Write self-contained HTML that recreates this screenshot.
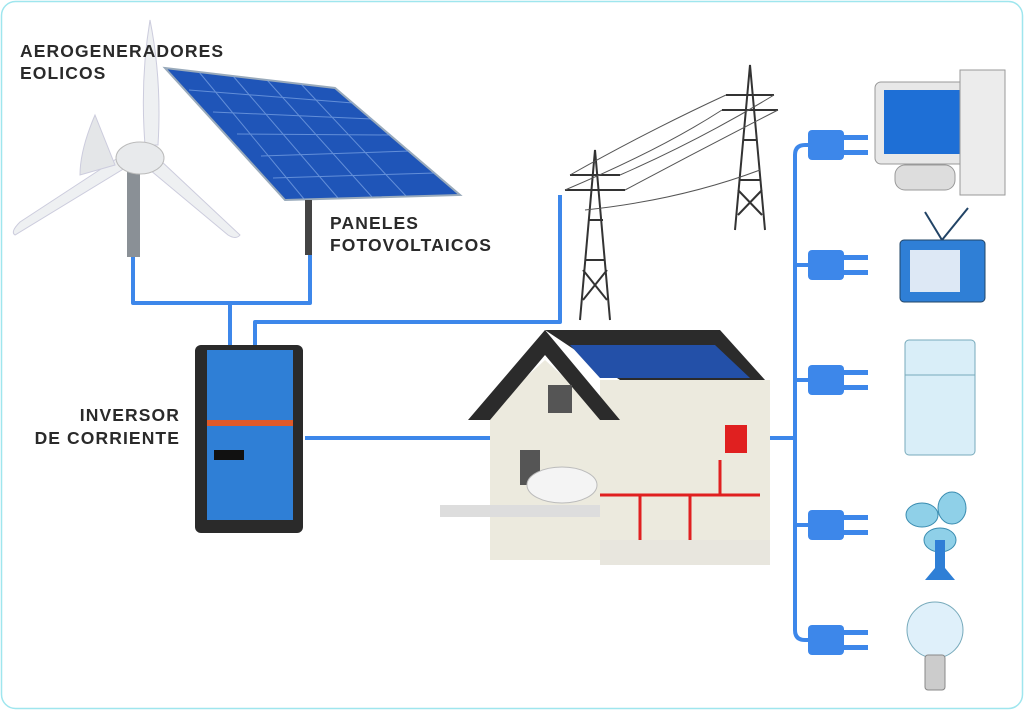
<!DOCTYPE html>
<html><head><meta charset="utf-8"><style>
html,body{margin:0;padding:0;background:#fff;}
svg{display:block}
text{font-family:"Liberation Sans",sans-serif;font-weight:bold;fill:#2a2a2a;font-size:17.5px;letter-spacing:1.1px}
</style></head><body>
<svg width="1024" height="710" viewBox="0 0 1024 710" xmlns="http://www.w3.org/2000/svg">
<rect x="1.5" y="1.5" width="1021" height="707" rx="14" fill="#fff" stroke="#9fe6ee" stroke-width="1.5"/>
<g fill="none" stroke="#3d87ea" stroke-width="4" stroke-linejoin="round">
<path d="M133 255 V303 H310 V255"/>
<path d="M230 303 V345"/>
<path d="M255 345 V322 H560 V195"/>
<path d="M305 438 H495"/>
<path d="M770 438 H795"/>
<path d="M815 145 H805 Q795 145 795 155 V630 Q795 640 805 640 H815"/>
<path d="M795 265 H815 M795 380 H815 M795 525 H815"/>
</g>
<g>
<g transform="translate(0,145)"><rect x="808" y="-15" width="36" height="30" rx="4" fill="#3d87ea"/><rect x="844" y="-10" width="24" height="5" fill="#3d87ea"/><rect x="844" y="5" width="24" height="5" fill="#3d87ea"/></g>
<g transform="translate(0,265)"><rect x="808" y="-15" width="36" height="30" rx="4" fill="#3d87ea"/><rect x="844" y="-10" width="24" height="5" fill="#3d87ea"/><rect x="844" y="5" width="24" height="5" fill="#3d87ea"/></g>
<g transform="translate(0,380)"><rect x="808" y="-15" width="36" height="30" rx="4" fill="#3d87ea"/><rect x="844" y="-10" width="24" height="5" fill="#3d87ea"/><rect x="844" y="5" width="24" height="5" fill="#3d87ea"/></g>
<g transform="translate(0,525)"><rect x="808" y="-15" width="36" height="30" rx="4" fill="#3d87ea"/><rect x="844" y="-10" width="24" height="5" fill="#3d87ea"/><rect x="844" y="5" width="24" height="5" fill="#3d87ea"/></g>
<g transform="translate(0,640)"><rect x="808" y="-15" width="36" height="30" rx="4" fill="#3d87ea"/><rect x="844" y="-10" width="24" height="5" fill="#3d87ea"/><rect x="844" y="5" width="24" height="5" fill="#3d87ea"/></g>
</g>
<rect x="127" y="165" width="13" height="92" fill="#8a9096"/>
<path d="M150 20 Q162 80 158 145 L145 145 Q140 80 150 20Z" fill="#eef0f2" stroke="#ccd" />
<path d="M130 165 L15 235 Q10 232 20 222 L130 150Z" fill="#eef0f2" stroke="#ccd"/>
<path d="M160 160 L240 235 Q236 240 228 235 L150 170Z" fill="#eef0f2" stroke="#ccd"/>
<path d="M95 115 Q80 150 80 175 L115 165Z" fill="#e4e6e8" stroke="#ccd"/>
<ellipse cx="140" cy="158" rx="24" ry="16" fill="#e8eaec" stroke="#bbb"/>
<polygon points="165,68 335,88 460,195 285,200" fill="#1f55b8" stroke="#9ab" stroke-width="2"/>
<g stroke="#7fa7e6" stroke-width="1" opacity="0.7">
<line x1="189" y1="90" x2="353" y2="103"/><line x1="213" y1="112" x2="372" y2="119"/><line x1="237" y1="134" x2="391" y2="135"/><line x1="261" y1="156" x2="410" y2="151"/><line x1="273" y1="178" x2="435" y2="173"/>
<line x1="199" y1="72" x2="304" y2="199"/><line x1="233" y1="76" x2="338" y2="198"/><line x1="267" y1="80" x2="372" y2="197"/><line x1="301" y1="84" x2="406" y2="196"/>
</g>
<rect x="305" y="200" width="7" height="55" fill="#444"/>
<g stroke="#333" stroke-width="2" fill="none">
<path d="M580 320 L595 150 L610 320 M585 260 L605 260 M588 220 L603 220 M565 190 H625 M570 175 H620 M583 300 L607 270 M607 300 L583 270"/>
<path d="M735 230 L750 65 L765 230 M740 180 L760 180 M743 140 L757 140 M722 110 H778 M726 95 H774 M738 215 L762 190 M762 215 L738 190"/>
</g>
<g stroke="#555" stroke-width="1" fill="none">
<path d="M565 190 Q660 150 722 110 M625 190 Q700 150 778 110 M570 175 Q650 130 726 95 M620 175 Q700 140 774 95 M585 210 Q680 200 760 170"/>
</g>
<rect x="195" y="345" width="108" height="188" rx="6" fill="#2a2a2a"/>
<rect x="207" y="350" width="86" height="170" fill="#2f7fd6"/>
<rect x="207" y="420" width="86" height="6" fill="#e05a2a"/>
<rect x="214" y="450" width="30" height="10" fill="#111"/>
<polygon points="490,560 490,410 545,360 600,410 600,380 770,380 770,560" fill="#eceade"/>
<polygon points="468,420 545,330 620,420 600,420 545,355 490,420" fill="#2b2b2b"/>
<polygon points="545,330 720,330 765,380 620,380" fill="#2b2b2b"/>
<polygon points="570,345 715,345 750,378 600,378" fill="#2350a8"/>
<rect x="548" y="385" width="24" height="28" fill="#555"/>
<rect x="520" y="450" width="20" height="35" fill="#555"/>
<rect x="440" y="505" width="160" height="12" fill="#ddd"/>
<ellipse cx="562" cy="485" rx="35" ry="18" fill="#f4f4f4" stroke="#bbb"/>
<rect x="725" y="425" width="22" height="28" fill="#e02020"/>
<path d="M600 495 H760 M640 495 V545 M690 495 V545 M720 460 V495" stroke="#e02020" stroke-width="3" fill="none"/>
<rect x="600" y="540" width="170" height="25" fill="#e8e6de"/>
<rect x="875" y="82" width="100" height="82" rx="6" fill="#e8e8e8" stroke="#999"/>
<rect x="884" y="90" width="82" height="64" fill="#1e6fd6"/>
<rect x="960" y="70" width="45" height="125" fill="#ececec" stroke="#999"/>
<rect x="895" y="165" width="60" height="25" rx="10" fill="#ddd" stroke="#999"/>
<rect x="900" y="240" width="85" height="62" rx="4" fill="#2f7fd6" stroke="#246"/>
<rect x="910" y="250" width="50" height="42" fill="#dde8f5"/>
<path d="M942 240 L925 212 M942 240 L968 208" stroke="#246" stroke-width="2"/>
<rect x="905" y="340" width="70" height="115" rx="4" fill="#d9eef8" stroke="#7ab"/>
<line x1="905" y1="375" x2="975" y2="375" stroke="#7ab"/>
<g fill="#8fd0e8" stroke="#3a8cb0"><ellipse cx="922" cy="515" rx="16" ry="12"/><ellipse cx="952" cy="508" rx="14" ry="16"/><ellipse cx="940" cy="540" rx="16" ry="12"/></g>
<path d="M935 540 V568 L925 580 H955 L945 568 V540" fill="#2f7fd6"/>
<circle cx="935" cy="630" r="28" fill="#dff0fa" stroke="#7ab"/>
<rect x="925" y="655" width="20" height="35" rx="3" fill="#ccc" stroke="#888"/>
<text x="20" y="57">AEROGENERADORES</text>
<text x="20" y="79">EOLICOS</text>
<text x="330" y="229">PANELES</text>
<text x="330" y="251">FOTOVOLTAICOS</text>
<text x="180" y="421" text-anchor="end">INVERSOR</text>
<text x="180" y="444" text-anchor="end">DE CORRIENTE</text>
</svg>
</body></html>
